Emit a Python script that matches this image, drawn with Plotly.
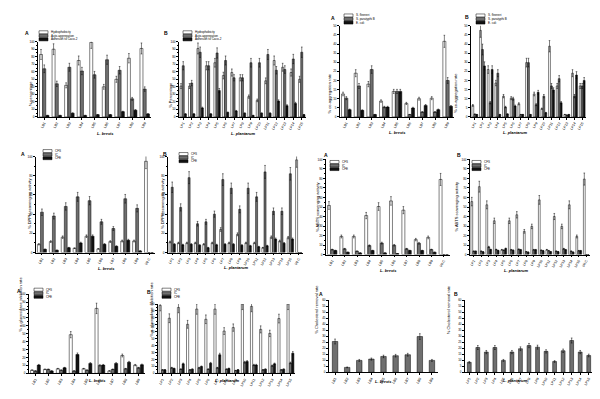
import plotly.graph_objects as go

# ---------------- data ----------------
brevis = ["LB1", "LB2", "LB3", "LB4", "LB5", "LB6", "LB7", "LB8", "LB9"]
plantarum = ["LP1", "LP2", "LP3", "LP4", "LP5", "LP6", "LP7", "LP8", "LP9",
             "LP10", "LP11", "LP12", "LP13", "LP14", "LP15"]
control = ["Vit C"]

# Panel 1 (A) surface properties, L. brevis
p1_hydro = [83, 90, 42, 75, 99, 40, 50, 78, 91]
p1_auto = [64, 44, 66, 61, 56, 76, 62, 24, 37]
p1_adh = [2, 2, 5, 2, 3, 3, 7, 9, 4]
# Panel 2 (B) surface properties, L. plantarum
p2_hydro = [41, 41, 91, 68, 72, 55, 59, 52, 27, 22, 48, 75, 66, 59, 50]
p2_auto = [68, 45, 86, 68, 85, 75, 52, 52, 72, 72, 83, 62, 63, 77, 86]
p2_adh = [4, 4, 12, 4, 35, 6, 8, 5, 2, 5, 5, 21, 15, 18, 3]
# Panel 3 (A) co-aggregation, L. brevis
p3_sf = [12.6, 24, 18, 8.7, 14, 7.4, 10, 10.3, 41.5]
p3_sp = [10.3, 17, 26, 5.4, 14, 1.3, 2.7, 2.7, 20]
p3_ec = [4, 3.6, 1.3, 5.4, 14, 4.9, 6.3, 4, 5.8]
# Panel 4 (B) co-aggregation, L. plantarum
p4_sf = [6.3, 47.5, 26, 18.6, 11.4, 10.3, 7.2, 29.8, 12.6, 4.5, 38.8, 17, 1.3, 24, 17]
p4_sp = [1.5, 37, 7.8, 24, 5.4, 10, 1.3, 29.8, 6.7, 11.4, 17, 21, 1, 11.4, 17]
p4_ec = [1.3, 28, 26, 1.3, 1.6, 6, 1.3, 1.3, 13.5, 2.3, 14.8, 7.8, 1.3, 23, 20]
# Panel 5 (A) DPPH, L. brevis + control
p5_cfs = [8.6, 11.4, 16, 4.5, 17, 3.8, 11.4, 12, 12, 95]
p5_ic = [42, 38, 48, 58, 54, 32, 25, 56, 46, 0]
p5_cfe = [3.4, 2.4, 5, 10, 17, 8.6, 6.5, 12.8, 1.7, 0]
# Panel 6 (B) DPPH, L. plantarum + control
p6_cfs = [11, 10, 10, 10, 8.6, 10, 24, 10, 19, 10, 10, 5, 16, 12, 15.5, 96.5]
p6_ic = [68, 47, 78, 30, 32, 40, 76, 67, 45, 67, 58, 84, 43, 43, 82, 0]
p6_cfe = [8.6, 8, 8.6, 7.6, 5, 8, 8.6, 8.6, 7.6, 7, 6, 7, 14, 9.7, 14, 0]
# Panel 7 (A) ABTS, L. brevis + control
p7_cfs = [51.6, 19, 19, 41, 50.5, 56.4, 46.7, 15.7, 18, 79]
p7_ic = [5.2, 6, 3.5, 9.4, 12, 9.8, 6, 11.8, 5.2, 0]
p7_cfe = [4.2, 2.4, 1.7, 4.2, 1.7, 1, 4.2, 4.2, 2.4, 0]
# Panel 8 (B) ABTS, L. plantarum + control
p8_cfs = [55.7, 71.4, 52.3, 35.5, 5, 35.5, 41.8, 24.4, 29.6, 57.5, 5, 40, 29.6, 52.3, 19, 79.4]
p8_ic = [3.5, 3.5, 8, 5.2, 4.5, 5, 5.5, 3, 5, 4.5, 4, 3.5, 6, 3.5, 4, 0]
p8_cfe = [3.5, 2.8, 5.2, 4.2, 6.3, 4.5, 5, 2.5, 5, 4, 3, 3, 5, 2.5, 4, 0]
# Panel 9 (A) alpha-glucosidase, L. brevis
p9_cfs = [4, 5, 5.8, 48.8, 5.8, 82, 3, 22.5, 10.4]
p9_ic = [3, 5, 4, 3, 4, 10, 5, 5.8, 7]
p9_cfe = [10.4, 3, 7, 23.8, 12.5, 10.4, 12.5, 14, 10.8]
# Panel 10 (B) alpha-glucosidase, L. plantarum
p10_cfs = [98, 79.5, 95, 70.7, 92.7, 78, 92.7, 61, 66, 100, 96.6, 63.4, 57.6, 79, 100]
p10_ic = [5, 8, 6, 5, 8, 6, 8, 6, 4, 16, 12, 5, 11, 5, 15]
p10_cfe = [5, 7, 13.7, 6, 9.8, 14.6, 26.8, 7, 5, 17, 12, 6, 13.7, 6, 29]
# Panel 11 (A) cholesterol removal, L. brevis
p11_chol = [25.6, 4.1, 9.9, 11, 13.2, 13.8, 14.6, 29.7, 9.9]
# Panel 12 (B) cholesterol removal, L. plantarum
p12_chol = [8.3, 20.6, 16.8, 20.6, 9.9, 16.8, 19.6, 22.2, 20.9, 17.4, 9, 17.9, 26.4, 16.8, 14]

lg_surf = ["Hydrophobicity", "Auto-aggregation", "Adhesion to Caco-2"]
lg_coag = ["S. flexneri", "S. paratyphi B", "E. coli"]
lg_anti = ["CFS", "IC", "CFE"]

# ---------------- layout helpers ----------------
W, H = 600, 399
def fx(px): return px / W
def fy(py): return 1 - py / H

WHITE, GREY, BLACK = "#ffffff", "#6f6f6f", "#111111"
COLS = [WHITE, GREY, BLACK]

panels = [
    dict(cats=brevis, series=[p1_hydro, p1_auto, p1_adh], box=(30, 143, 32, 108), rng=100, dt=10,
         letter="A", lpos=(15, 18), leg=lg_surf, legpos=(31, 21), yt="% percentage", ytx=18, xt="L. brevis", xty=120),
    dict(cats=plantarum, series=[p2_hydro, p2_auto, p2_adh], box=(171, 298, 32, 108), rng=100, dt=10,
         letter="B", lpos=(154, 18), leg=lg_surf, legpos=(175, 21), yt="% Percentage", ytx=158, xt="L. plantarum", xty=120),
    dict(cats=brevis, series=[p3_sf, p3_sp, p3_ec], box=(332, 446, 16, 108), rng=50, dt=5,
         letter="A", lpos=(321, 3), leg=lg_coag, legpos=(336, 4), yt="% co-aggregation rate", ytx=321, xt="L. brevis", xty=119),
    dict(cats=plantarum, series=[p4_sf, p4_sp, p4_ec], box=(463, 578, 16, 108), rng=50, dt=5,
         letter="B", lpos=(455, 2), leg=lg_coag, legpos=(468, 4), yt="% co-aggregation rate", ytx=452, xt="L. plantarum", xty=119),
    dict(cats=brevis + control, series=[p5_cfs, p5_ic, p5_cfe], box=(28, 147, 148, 245), rng=100, dt=20,
         letter="A", lpos=(11, 140), leg=lg_anti, legpos=(35, 141), yt="% DPPH scavenging activity", ytx=17, xt="L. brevis", xty=261),
    dict(cats=plantarum + control, series=[p6_cfs, p6_ic, p6_cfe], box=(160, 295, 148, 245), rng=100, dt=20,
         letter="B", lpos=(153, 140), leg=lg_anti, legpos=(171, 144), yt="% DPPH scavenging activity", ytx=150, xt="L. plantarum", xty=260),
    dict(cats=brevis + control, series=[p7_cfs, p7_ic, p7_cfe], box=(318, 442, 151, 247), rng=100, dt=10,
         letter="A", lpos=(314, 141), leg=lg_anti, legpos=(322, 152), yt="% ABTS scavenging activity", ytx=309, xt="L. brevis", xty=263),
    dict(cats=plantarum + control, series=[p8_cfs, p8_ic, p8_cfe], box=(462, 582, 151, 247), rng=100, dt=10,
         letter="B", lpos=(447, 141), leg=lg_anti, legpos=(464, 152), yt="% ABTS scavenging activity", ytx=453, xt="L. plantarum", xty=263),
    dict(cats=brevis, series=[p9_cfs, p9_ic, p9_cfe], box=(21, 137, 287, 367), rng=100, dt=10,
         letter="A", lpos=(7, 279), leg=lg_anti, legpos=(26, 281), yt="% α-glucosidase inhibition rate", ytx=8, xt="L. brevis", xty=379),
    dict(cats=plantarum, series=[p10_cfs, p10_ic, p10_cfe], box=(150, 287, 297, 367), rng=100, dt=10,
         letter="B", lpos=(137, 280), leg=lg_anti, legpos=(154, 281), yt="% α-glucosidase inhibition rate", ytx=139, xt="L. plantarum", xty=379),
    dict(cats=brevis, series=[p11_chol], box=(321, 430, 293, 366), rng=60, dt=5,
         letter="A", lpos=(309, 282), leg=None, legpos=None, yt="% Cholesterol removal rate", ytx=309, xt="L. brevis", xty=380),
    dict(cats=plantarum, series=[p12_chol], box=(457, 585, 293, 366), rng=60, dt=5,
         letter="B", lpos=(444, 282), leg=None, legpos=None, yt="% Cholesterol removal rate", ytx=445, xt="L. plantarum", xty=379),
]

fig = go.Figure()
annotations, shapes = [], []
layout_axes = {}

for i, p in enumerate(panels, start=1):
    sfx = "" if i == 1 else str(i)
    x0, x1, yt_, yb_ = p["box"]
    single = len(p["series"]) == 1
    for k, vals in enumerate(p["series"]):
        n = len(vals)
        fig.add_trace(go.Bar(
            x=p["cats"][:n], y=vals,
            xaxis="x" + sfx, yaxis="y" + sfx,
            marker=dict(color=GREY if single else COLS[k], line=dict(color="black", width=0.5)),
            width=0.45 if single else None,
            error_y=dict(type="percent", value=8, thickness=0.5, width=0.8, color="black"),
            showlegend=False, offsetgroup=None if single else str(k),
        ))
    layout_axes["xaxis" + sfx] = dict(
        domain=[fx(x0), fx(x1)], anchor="y" + sfx, showline=True, linecolor="black", linewidth=0.8,
        ticks="outside", ticklen=2, tickwidth=0.6, tickcolor="black", tickangle=-60,
        tickfont=dict(size=3.5, color="black"), showgrid=False, zeroline=False)
    layout_axes["yaxis" + sfx] = dict(
        domain=[fy(yb_), fy(yt_)], anchor="x" + sfx, range=[0, p["rng"]], dtick=p["dt"],
        showline=True, linecolor="black", linewidth=0.8, ticks="outside", ticklen=2, tickwidth=0.6,
        tickcolor="black", tickfont=dict(size=3, color="black"), showgrid=False, zeroline=False,
        minor=dict(ticks="outside", ticklen=1, tickwidth=0.4, tickcolor="black", nticks=2))
    # panel letter
    annotations.append(dict(x=fx(p["lpos"][0]), y=fy(p["lpos"][1]), xref="paper", yref="paper",
                            text="<b>%s</b>" % p["letter"], showarrow=False, xanchor="left", yanchor="top",
                            font=dict(size=5, color="black", family="Arial")))
    # y title
    annotations.append(dict(x=fx(p["ytx"]), y=fy((yt_ + yb_) / 2), xref="paper", yref="paper",
                            text=p["yt"], textangle=-90, showarrow=False,
                            font=dict(size=4, color="black", family="Arial")))
    # x title
    annotations.append(dict(x=fx((x0 + x1) / 2), y=fy(p["xty"]), xref="paper", yref="paper",
                            text="<b><i>%s</i></b>" % p["xt"], showarrow=False,
                            font=dict(size=4, color="black", family="Arial")))
    # legend
    if p["leg"]:
        lx, ly = p["legpos"]
        for k, name in enumerate(p["leg"]):
            top = ly + k * 3.6
            shapes.append(dict(type="rect", xref="paper", yref="paper",
                               x0=fx(lx), x1=fx(lx + 9), y0=fy(top + 3), y1=fy(top),
                               fillcolor=COLS[k], line=dict(color="black", width=0.5)))
            annotations.append(dict(x=fx(lx + 10), y=fy(top + 1.5), xref="paper", yref="paper",
                                    text=name, showarrow=False, xanchor="left", yanchor="middle",
                                    font=dict(size=3, color="black", family="Arial")))

fig.update_layout(
    width=W, height=H, margin=dict(l=0, r=0, t=0, b=0),
    paper_bgcolor="white", plot_bgcolor="white",
    barmode="group", bargap=0.22, bargroupgap=0.08,
    annotations=annotations, shapes=shapes,
    font=dict(family="Arial", color="black"),
    **layout_axes,
)

fig.write_html("out.html")
